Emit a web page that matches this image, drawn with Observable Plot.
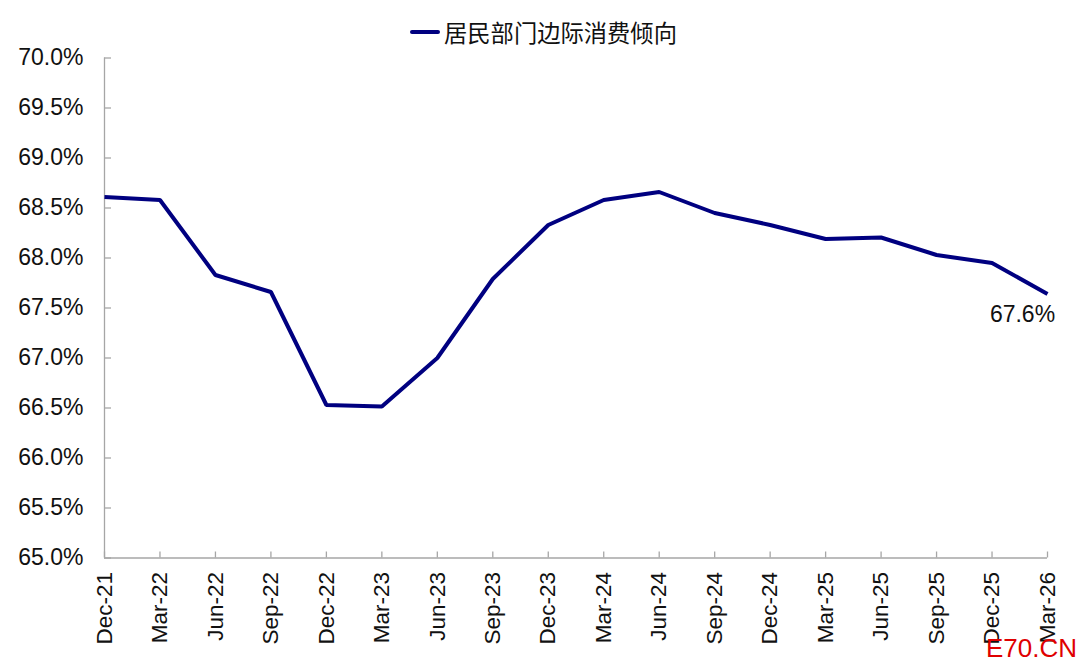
<!DOCTYPE html>
<html>
<head>
<meta charset="utf-8">
<script src="https://cdn.jsdelivr.net/npm/d3@7"></script>
<script src="https://cdn.jsdelivr.net/npm/@observablehq/plot@0.6"></script>
<style>
  html, body { margin: 0; padding: 0; background: #fff; }
  #wrap { position: relative; width: 1080px; height: 665px; overflow: hidden; font-family: "Liberation Sans", Arial, sans-serif; }
  #legend { position: relative; height: 40px; width: 1080px; }
  #legend .swatch { position: absolute; left: 410px; top: 30px; width: 30px; height: 4px; background: #000080; border-radius: 2px; }
  #legend .label { position: absolute; left: 444px; top: 18px; line-height: 28px; font-size: 23.3px; color: #111; font-family: "Noto Sans CJK SC", "Noto Sans", sans-serif; }
  #wm { position: absolute; left: 986px; top: 633px; font-size: 26px; line-height: 30px; color: #e00000; font-family: "Liberation Sans", Arial, sans-serif; }
</style>
</head>
<body>
<div id="wrap">
  <div id="legend"><span class="swatch"></span><span class="label">居民部门边际消费倾向</span></div>
  <div id="chart"></div>
  <div id="wm">E70.CN</div>
</div>
<script>
const seriesName = "居民部门边际消费倾向";
const quarters = ["Dec-21","Mar-22","Jun-22","Sep-22","Dec-22","Mar-23","Jun-23","Sep-23","Dec-23","Mar-24","Jun-24","Sep-24","Dec-24","Mar-25","Jun-25","Sep-25","Dec-25","Mar-26"];
const values = [68.61, 68.58, 67.83, 67.66, 66.53, 66.515, 67.0, 67.79, 68.33, 68.58, 68.66, 68.45, 68.33, 68.19, 68.205, 68.03, 67.95, 67.64];
const yTicks = [65.0, 65.5, 66.0, 66.5, 67.0, 67.5, 68.0, 68.5, 69.0, 69.5, 70.0];
const lastLabel = "67.6%";

const data = quarters.map((q, i) => ({q, v: values[i]}));

const W = 1080, H = 625;
const mL = 104, mR = 33, mT = 17.5, mB = 107.5;
const plotW = W - mL - mR, plotH = H - mT - mB;
const axisColor = "#a6a6a6";

const chart = Plot.plot({
  width: W,
  height: H,
  marginLeft: mL,
  marginRight: mR,
  marginTop: mT,
  marginBottom: mB,
  style: { fontFamily: "'Liberation Sans', Arial, sans-serif", fontSize: "23px", color: "#111", background: "#fff" },
  x: { type: "point", domain: quarters, padding: 0, round: false },
  y: { domain: [65, 70] },
  marks: [
    Plot.ruleX([quarters[0]], { stroke: axisColor, strokeWidth: 1.3 }),
    Plot.ruleY([65], { stroke: axisColor, strokeWidth: 1.3 }),
    Plot.tickY(yTicks, { y: d => d, stroke: axisColor, strokeWidth: 1.3, insetRight: plotW - 7 }),
    Plot.tickX(quarters, { x: d => d, stroke: axisColor, strokeWidth: 1.3, insetTop: plotH - 6 }),
    Plot.axisY(yTicks, { tickSize: 0, tickPadding: 21, tickFormat: d => d.toFixed(1) + "%", label: null, fontSize: 23 }),
    Plot.axisX({ tickSize: 0, tickPadding: 14, tickRotate: -90, label: null, fontSize: 22.5 }),
    Plot.line(data, { x: "q", y: "v", stroke: "#000080", strokeWidth: 4, strokeLinejoin: "miter", strokeLinecap: "butt" }),
    Plot.text([data[data.length - 1]], { x: "q", y: "v", text: () => lastLabel, dx: -25, dy: 21, textAnchor: "middle", fontSize: 23, fill: "#111" })
  ]
});
document.getElementById("chart").appendChild(chart);
</script>
</body>
</html>
